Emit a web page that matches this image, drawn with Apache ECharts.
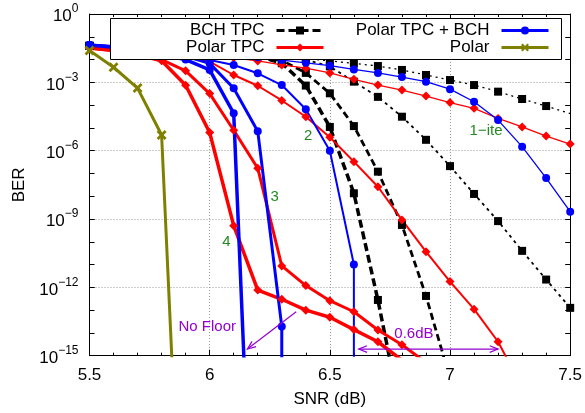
<!DOCTYPE html>
<html><head><meta charset="utf-8">
<script src="https://cdn.jsdelivr.net/npm/echarts@6/dist/echarts.min.js"></script>
<style>html,body{margin:0;padding:0;background:#fff}#c{width:585px;height:413px}</style>
</head><body><div id="c"></div>
<script>
// ---------------- data ----------------
const legendNames = ['BCH TPC', 'Polar TPC', 'Polar TPC + BCH', 'Polar'];

// Polar (olive)
const snrPolar = [5.5, 5.6, 5.7, 5.8, 5.85];
const berPolar = [2.5e-2, 4.6e-3, 5.6e-4, 4.9e-6, 1.6e-17];

// Polar TPC (red), iterations 1..4
const snrPtpc1 = [5.5, 5.8, 6.0, 6.1, 6.2, 6.3, 6.4, 6.5, 6.6, 6.7, 6.8, 6.9, 7.0, 7.1, 7.2, 7.3, 7.4, 7.5];
const berPtpc1 = [3.2e-2, 2.5e-2, 1.6e-2, 1.2e-2, 8.7e-3, 5.8e-3, 4.2e-3, 2.6e-3, 1.35e-3, 7.6e-4, 4.6e-4, 2.5e-4, 1.3e-4, 7.2e-5, 2.6e-5, 1.1e-5, 4.4e-6, 1.95e-6];
const snrPtpc2 = [5.5, 5.7, 5.9, 6.0, 6.1, 6.2, 6.3, 6.4, 6.5, 6.6, 6.7, 6.8, 6.9, 7.0, 7.1, 7.2, 7.3];
const berPtpc2 = [3.2e-2, 2.5e-2, 1.6e-2, 8.1e-3, 2.1e-3, 7.1e-4, 1.6e-4, 3.1e-5, 3.9e-6, 3.3e-7, 2.6e-8, 9.1e-10, 3.7e-11, 1.8e-12, 1.1e-13, 4.1e-15, 4e-17];
const snrPtpc3 = [5.5, 5.6, 5.7, 5.8, 5.9, 6.0, 6.1, 6.2, 6.3, 6.4, 6.5, 6.6, 6.7, 6.8, 6.9];
const berPtpc3 = [3.2e-2, 2.5e-2, 1.7e-2, 1.0e-2, 3.2e-3, 3.2e-4, 7.9e-6, 1.7e-7, 8.7e-12, 1.2e-12, 2.6e-13, 8.5e-14, 1.35e-14, 3.0e-15, 5e-16];
const snrPtpc4 = [5.5, 5.6, 5.7, 5.8, 5.9, 6.0, 6.1, 6.2, 6.3, 6.4, 6.5, 6.6, 6.7, 6.8];
const berPtpc4 = [3.2e-2, 2.5e-2, 1.6e-2, 8.9e-3, 7.4e-4, 6.3e-6, 5.1e-10, 7.6e-13, 3.0e-13, 1.0e-13, 4.9e-14, 1.4e-14, 4.1e-15, 6.3e-16];

// Polar TPC + BCH (blue), iterations 1..4
const snrPb1 = [5.5, 5.8, 6.0, 6.2, 6.3, 6.4, 6.5, 6.6, 6.7, 6.8, 6.9, 7.0, 7.1, 7.2, 7.3, 7.4, 7.5];
const berPb1 = [4.4e-2, 3.2e-2, 2.0e-2, 1.26e-2, 9.5e-3, 7.2e-3, 5.4e-3, 3.7e-3, 2.6e-3, 1.7e-3, 1.07e-3, 5.0e-4, 1.4e-4, 2.2e-5, 1.5e-6, 6.3e-8, 2.1e-9];
const snrPb2 = [5.5, 5.8, 5.9, 6.0, 6.1, 6.2, 6.3, 6.4, 6.5, 6.6, 6.6];
const berPb2 = [4.4e-2, 2.5e-2, 1.4e-2, 9.5e-3, 5.8e-3, 2.5e-3, 7.6e-4, 6.6e-5, 1.0e-6, 1.0e-11, 1e-17];
const snrPb3 = [5.5, 5.7, 5.9, 6.0, 6.1, 6.2, 6.3, 6.3];
const berPb3 = [4.4e-2, 3.2e-2, 1.4e-2, 6.8e-3, 5.5e-4, 7.2e-6, 1.9e-14, 1e-17];
const snrPb4 = [5.5, 5.6, 5.7, 5.8, 5.9, 6.0, 6.1, 6.15];
const berPb4 = [4.4e-2, 3.5e-2, 2.5e-2, 1.6e-2, 1.0e-2, 3.5e-3, 4.4e-5, 1e-17];

// BCH TPC (black), iterations 1..4
const snrB1 = [5.5, 6.0, 6.3, 6.4, 6.5, 6.6, 6.7, 6.8, 6.9, 7.0, 7.1, 7.2, 7.3, 7.4, 7.6];
const berB1 = [4e-2, 2.5e-2, 1.4e-2, 1.1e-2, 8.7e-3, 6.8e-3, 5.2e-3, 3.5e-3, 2.1e-3, 1.26e-3, 7.6e-4, 3.9e-4, 1.86e-4, 9.1e-5, 2e-5];
const snrB2 = [5.5, 6.0, 6.2, 6.3, 6.4, 6.5, 6.6, 6.7, 6.8, 6.9, 7.0, 7.1, 7.2, 7.3, 7.4, 7.5];
const berB2 = [4e-2, 2.5e-2, 1.8e-2, 1.4e-2, 1.0e-2, 5.0e-3, 1.07e-3, 2.3e-4, 3.1e-5, 3.0e-6, 2.1e-7, 1.26e-8, 8.1e-10, 4.0e-11, 2.2e-12, 1.26e-13];
const snrB3 = [5.5, 5.9, 6.1, 6.2, 6.3, 6.4, 6.5, 6.6, 6.7, 6.8, 6.9, 7.0];
const berB3 = [4e-2, 2.5e-2, 1.8e-2, 1.4e-2, 9.3e-3, 2.6e-3, 3.3e-4, 1.2e-5, 1.2e-7, 5.5e-10, 4.2e-13, 1e-16];
const snrB4 = [5.5, 5.8, 6.0, 6.2, 6.3, 6.4, 6.5, 6.6, 6.7, 6.8];
const berB4 = [4e-2, 2.8e-2, 2.2e-2, 1.4e-2, 6.9e-3, 7.2e-4, 1.1e-5, 1.35e-8, 2.8e-13, 1.6e-18];

// annotations [text, snr, ber]
const iterLabels = [['1\u2212ite', 7.15, 7.2e-6], ['2', 6.41, 4.4e-6], ['3', 6.27, 9.3e-9], ['4', 6.07, 1.0e-10]];
const noFloorText = ['No Floor', 5.99, 1.9e-14];
const noFloorArrow = [[6.36, 8.5e-14], [6.157, 1.95e-15]];
const gapText = ['0.6dB', 6.85, 9.5e-15];
const gapArrow = [[6.62, 1.95e-15], [7.2, 1.95e-15]];

// ---------------- chart ----------------
const FF = "'Liberation Sans', Arial, Helvetica, sans-serif";
const RED = '#ff0000', BLUE = '#0000ff', BLACK = '#000000', OLIVE = '#808000', GREEN = '#228b22', PURPLE = '#9400d3';
const XSYM = 'path://M0,2 L2,0 L5,3 L8,0 L10,2 L7,5 L10,8 L8,10 L5,7 L2,10 L0,8 L3,5 Z';
const DSYM = 'path://M5,0 L10,5 L5,10 L0,5 Z';

function mk(name, snr, ber, color, width, dash, symbol, size) {
  return {
    type: 'line', name: name, xAxisIndex: 0, yAxisIndex: 0,
    data: snr.map((x, i) => [x, ber[i]]),
    lineStyle: { color: color, width: width, type: dash },
    itemStyle: { color: color },
    symbol: symbol, symbolSize: size, clip: true, animation: false,
    emphasis: { disabled: true }
  };
}

const series = [
  // first series of each name = legend sample
  mk('BCH TPC', snrB4, berB4, BLACK, 3.5, [8, 4], 'rect', 8),
  mk('BCH TPC', snrB3, berB3, BLACK, 2.8, [7, 4], 'rect', 8),
  mk('BCH TPC', snrB2, berB2, BLACK, 1.8, [3, 4], 'rect', 8),
  mk('BCH TPC', snrB1, berB1, BLACK, 1.3, [2, 4], 'rect', 8),
  mk('Polar TPC', snrPtpc4, berPtpc4, RED, 3.5, 'solid', DSYM, 9),
  mk('Polar TPC', snrPtpc3, berPtpc3, RED, 3, 'solid', DSYM, 9),
  mk('Polar TPC', snrPtpc2, berPtpc2, RED, 2, 'solid', DSYM, 9),
  mk('Polar TPC', snrPtpc1, berPtpc1, RED, 1.3, 'solid', DSYM, 9),
  mk('Polar TPC + BCH', snrPb4, berPb4, BLUE, 3.5, 'solid', 'circle', 8),
  mk('Polar TPC + BCH', snrPb3, berPb3, BLUE, 3, 'solid', 'circle', 8),
  mk('Polar TPC + BCH', snrPb2, berPb2, BLUE, 2, 'solid', 'circle', 8),
  mk('Polar TPC + BCH', snrPb1, berPb1, BLUE, 1.3, 'solid', 'circle', 8),
  mk('Polar', snrPolar, berPolar, OLIVE, 3, 'solid', XSYM, 10)
];

function legendAt(name, right, top) {
  return {
    data: [name], right: right, top: top, orient: 'horizontal', align: 'right',
    padding: 0, itemWidth: 47, itemHeight: 10, itemGap: 0, selectedMode: false, z: 8,
    lineStyle: { width: 3 },
    formatter: '{t|{name}}',
    textStyle: { color: '#000', fontFamily: FF, fontSize: 17,
      rich: { t: { fontFamily: FF, fontSize: 17, color: '#000', padding: [0, 7, 0, 0] } } }
  };
}

const tickLine = { color: '#000', width: 1 };
const gridLine = { show: true, showMinLine: false, showMaxLine: false, lineStyle: { color: '#9a9a9a', width: 1, type: [1, 2] } };

const option = {
  animation: false,
  backgroundColor: '#fff',
  grid: { left: 89.5, right: 13.3, top: 14, bottom: 57.3, containLabel: false },
  legend: [
    legendAt(legendNames[0], 260, 22),
    legendAt(legendNames[1], 260, 39),
    legendAt(legendNames[2], 35, 22),
    legendAt(legendNames[3], 35, 39)
  ],
  xAxis: [
    { type: 'value', position: 'bottom', min: 5.5, max: 7.5, interval: 0.5,
      name: 'SNR (dB)', nameLocation: 'middle', nameGap: 35,
      nameTextStyle: { fontFamily: FF, fontSize: 17, color: '#000' },
      axisLine: { show: true, lineStyle: tickLine },
      axisTick: { show: true, inside: true, length: 6, lineStyle: tickLine },
      minorTick: { show: true, splitNumber: 5, length: 3, lineStyle: tickLine },
      axisLabel: { fontFamily: FF, fontSize: 17, color: '#000', margin: 11, showMinLabel: true, showMaxLabel: true },
      splitLine: gridLine },
    { type: 'value', position: 'top', min: 5.5, max: 7.5, interval: 0.5,
      axisLine: { show: true, lineStyle: tickLine },
      axisTick: { show: true, inside: true, length: 6, lineStyle: tickLine },
      minorTick: { show: true, splitNumber: 5, length: 3, lineStyle: tickLine },
      axisLabel: { show: false }, splitLine: { show: false } }
  ],
  yAxis: [
    { type: 'log', logBase: 10, position: 'left', min: 1e-15, max: 1, interval: 3,
      name: 'BER', nameLocation: 'middle', nameGap: 62, nameRotate: 90,
      nameTextStyle: { fontFamily: FF, fontSize: 17, color: '#000' },
      axisLine: { show: true, lineStyle: tickLine },
      axisTick: { show: true, inside: true, length: 5, lineStyle: tickLine },
      axisLabel: { margin: 11, showMinLabel: true, showMaxLabel: true,
        formatter: function (v) {
          const e = Math.round(Math.log10(v));
          return '{b|10}{s|' + (e === 0 ? '0' : '\u2212' + (-e)) + '}';
        },
        rich: {
          b: { fontFamily: FF, fontSize: 17, color: '#000', lineHeight: 22, verticalAlign: 'bottom' },
          s: { fontFamily: FF, fontSize: 12, color: '#000', lineHeight: 12, verticalAlign: 'top' }
        } },
      splitLine: gridLine },
    { type: 'log', logBase: 10, position: 'left', min: 1e-15, max: 1, interval: 1,
      axisLine: { show: false }, axisLabel: { show: false }, splitLine: { show: false },
      axisTick: { show: true, inside: true, length: 5, lineStyle: tickLine } },
    { type: 'log', logBase: 10, position: 'right', min: 1e-15, max: 1, interval: 1,
      axisLine: { show: true, lineStyle: tickLine }, axisLabel: { show: false }, splitLine: { show: false },
      axisTick: { show: true, inside: true, length: 5, lineStyle: tickLine } }
  ],
  series: series
};

const chart = echarts.init(document.getElementById('c'), null, { renderer: 'canvas' });
chart.setOption(option);

// annotations placed through the chart's own coordinate conversion
const px = (x, y) => chart.convertToPixel({ seriesIndex: 0 }, [x, y]);
const gfx = [];
gfx.push({ type: 'rect', shape: { x: 110.5, y: 18.5, width: 451, height: 41 },
  style: { fill: '#fff', stroke: '#000', lineWidth: 1 }, z: 6 });
iterLabels.forEach(function (l) {
  const p = px(l[1], l[2]);
  gfx.push({ type: 'text', x: p[0], y: p[1], z: 7,
    style: { text: l[0], fill: GREEN, fontFamily: FF, fontSize: 15, align: 'center', verticalAlign: 'middle' } });
});
[noFloorText, gapText].forEach(function (l) {
  const p = px(l[1], l[2]);
  gfx.push({ type: 'text', x: p[0], y: p[1], z: 7,
    style: { text: l[0], fill: PURPLE, fontFamily: FF, fontSize: 15, align: 'center', verticalAlign: 'middle' } });
});
function head(tip, from) {
  const a = Math.atan2(from[1] - tip[1], from[0] - tip[0]);
  const L = 9, w = 0.38;
  return { type: 'polyline', z: 7, shape: { points: [
    [tip[0] + L * Math.cos(a + w), tip[1] + L * Math.sin(a + w)], tip,
    [tip[0] + L * Math.cos(a - w), tip[1] + L * Math.sin(a - w)]] },
    style: { stroke: PURPLE, lineWidth: 1.2, fill: null } };
}
function arrow(a, both) {
  const p0 = px(a[0][0], a[0][1]), p1 = px(a[1][0], a[1][1]);
  gfx.push({ type: 'line', z: 7, shape: { x1: p0[0], y1: p0[1], x2: p1[0], y2: p1[1] },
    style: { stroke: PURPLE, lineWidth: 1.2 } });
  gfx.push(head(p1, p0));
  if (both) gfx.push(head(p0, p1));
}
arrow(noFloorArrow, false);
arrow(gapArrow, true);
chart.setOption({ graphic: gfx });
</script>
</body></html>
